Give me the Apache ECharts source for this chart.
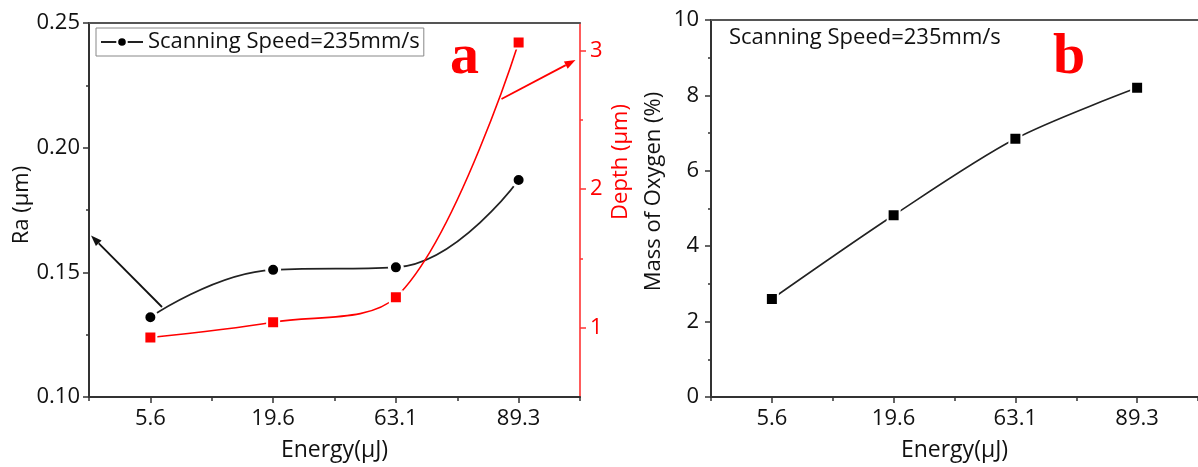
<!DOCTYPE html>
<html>
<head>
<meta charset="utf-8">
<script src="https://cdn.jsdelivr.net/npm/echarts@6/dist/echarts.min.js"></script>
<style>
html,body{margin:0;padding:0;background:#fff;}
#main{width:1198px;height:467px;}
</style>
</head>
<body>
<div id="main"></div>
<script>
// energy levels (category axis)
var energy = ['5.6', '19.6', '63.1', '89.3'];
// panel a
var ra = [0.132, 0.151, 0.152, 0.187];
var depth = [0.93, 1.04, 1.22, 3.06];
var depthTicks = [1, 2, 3];
var depthMinor = [1.5, 2.5];
// panel b
var oxygen = [2.6, 4.82, 6.85, 8.2];

var legendName = 'Scanning Speed=235mm/s';
var FONT = '"Open Sans", sans-serif';
var AXIS = '#333';
var RED = '#ff0000';

// arrow: line + filled head, from (x1,y1) to tip (x2,y2)
function arrow(x1, y1, x2, y2, color){
    var a = Math.atan2(y2 - y1, x2 - x1);
    var L = 11, W = 4;
    var bx = x2 - L * Math.cos(a), by = y2 - L * Math.sin(a);
    var px = -Math.sin(a) * W, py = Math.cos(a) * W;
    return [
        {type:'line', shape:{x1:x1, y1:y1, x2:bx, y2:by}, style:{stroke:color, lineWidth:1.8}},
        {type:'polygon', shape:{points:[[x2, y2], [bx + px, by + py], [bx - px, by - py]]}, style:{fill:color}}
    ];
}

function catAxis(grid, main, name){
    return {
        type:'category', gridIndex:grid, data:energy, position:'bottom',
        name: main ? name : '', nameLocation:'middle', nameGap:42,
        nameTextStyle:{fontFamily:FONT, fontSize:23, color:'#111'},
        axisLine:{show:main, lineStyle:{color:AXIS, width:2}},
        axisTick:{show:true, alignWithLabel:main, length: main ? 6 : 4, lineStyle:{color:AXIS, width:1.5}},
        axisLabel:{show:main, margin:11, fontFamily:FONT, fontSize:22, color:'#111'},
        splitLine:{show:false}
    };
}
function topLine(grid){
    return {
        type:'category', gridIndex:grid, data:energy, position:'top',
        axisLine:{lineStyle:{color:'#555', width:2}},
        axisTick:{show:false}, axisLabel:{show:false}, splitLine:{show:false}
    };
}

var graphics = [];
graphics = graphics.concat(arrow(162, 307, 91, 235.5, '#111'));
graphics = graphics.concat(arrow(501.5, 99, 575.5, 60, RED));
graphics.push({type:'text', style:{x:450, y:58, text:'a', font:'bold 58px "Liberation Serif", serif', fill:RED, verticalAlign:'middle'}});
graphics.push({type:'text', style:{x:1053, y:58, text:'b', font:'bold 58px "Liberation Serif", serif', fill:RED, verticalAlign:'middle'}});
graphics.push({type:'text', style:{x:729, y:38, text:legendName, font:'22px ' + FONT, fill:'#111', verticalAlign:'middle'}});

var option = {
    animation:false,
    backgroundColor:'#fff',
    grid:[
        {left:89, top:23, width:491, height:375},
        {left:711, top:20, width:500, height:384}
    ],
    legend:{
        data:[legendName],
        left:96, top:28,
        padding:[3, 4, 3, 4],
        itemWidth:42, itemHeight:12,
        borderColor:'#888', borderWidth:1,
        textStyle:{fontFamily:FONT, fontSize:22, color:'#111'}
    },
    xAxis:[
        catAxis(0, true, 'Energy(μJ)'),
        catAxis(0, false),
        topLine(0),
        catAxis(1, true, 'Energy(μJ)'),
        catAxis(1, false),
        topLine(1)
    ],
    yAxis:[
        {
            type:'value', gridIndex:0, position:'left', min:0.10, max:0.25, interval:0.05,
            name:'Ra (μm)', nameLocation:'middle', nameGap:52,
            nameTextStyle:{fontFamily:FONT, fontSize:22, color:'#111', padding:[0, 0, 0, 10]},
            axisLine:{show:true, lineStyle:{color:AXIS, width:2}},
            axisTick:{show:true, length:6, lineStyle:{color:AXIS, width:1.5}},
            minorTick:{show:true, splitNumber:2, length:3, lineStyle:{color:AXIS, width:1.5}},
            axisLabel:{margin:9, fontFamily:FONT, fontSize:22, color:'#111', formatter:function(v){return v.toFixed(2);}},
            splitLine:{show:false}
        },
        {
            type:'value', gridIndex:0, position:'right', min:0.5, max:3.2,
            name:'Depth (μm)', nameLocation:'middle', nameGap:30, nameRotate:90,
            nameTextStyle:{fontFamily:FONT, fontSize:22, color:RED, padding:[0, 0, 0, 96]},
            axisLine:{show:true, lineStyle:{color:'#ff3333', width:1.6}},
            axisTick:{show:true, length:6, customValues:depthTicks, lineStyle:{color:'#ff3333', width:1.5}},
            axisLabel:{margin:10, customValues:depthTicks, fontFamily:FONT, fontSize:22, color:RED},
            splitLine:{show:false}
        },
        {
            type:'value', gridIndex:0, position:'right', min:0.5, max:3.2,
            axisLine:{show:false},
            axisTick:{show:true, length:3, customValues:depthMinor, lineStyle:{color:'#ff3333', width:1.5}},
            axisLabel:{show:false},
            splitLine:{show:false}
        },
        {
            type:'value', gridIndex:1, position:'left', min:0, max:10, interval:2,
            name:'Mass of Oxygen (%)', nameLocation:'middle', nameGap:46,
            nameTextStyle:{fontFamily:FONT, fontSize:22, color:'#111', padding:[0, 0, 0, 34]},
            axisLine:{show:true, lineStyle:{color:AXIS, width:2}},
            axisTick:{show:true, length:6, lineStyle:{color:AXIS, width:1.5}},
            minorTick:{show:true, splitNumber:2, length:3, lineStyle:{color:AXIS, width:1.5}},
            axisLabel:{margin:12, fontFamily:FONT, fontSize:22, color:'#111'},
            splitLine:{show:false}
        }
    ],
    series:[
        {
            name:legendName, type:'line', xAxisIndex:0, yAxisIndex:0,
            data:ra, smooth:0.45,
            symbol:'circle', symbolSize:13,
            lineStyle:{color:'#222', width:1.8},
            itemStyle:{color:'#000', borderColor:'#fff', borderWidth:3}
        },
        {
            name:'Depth', type:'line', xAxisIndex:0, yAxisIndex:1,
            data:depth, smooth:0.35,
            symbol:'rect', symbolSize:12,
            lineStyle:{color:RED, width:1.6},
            itemStyle:{color:RED, borderColor:'#fff', borderWidth:2}
        },
        {
            name:'Oxygen', type:'line', xAxisIndex:3, yAxisIndex:3,
            data:oxygen, smooth:0.3,
            symbol:'rect', symbolSize:12,
            lineStyle:{color:'#222', width:1.6},
            itemStyle:{color:'#000', borderColor:'#fff', borderWidth:2}
        }
    ],
    graphic:graphics
};

var chart = echarts.init(document.getElementById('main'));
chart.setOption(option);
</script>
</body>
</html>
